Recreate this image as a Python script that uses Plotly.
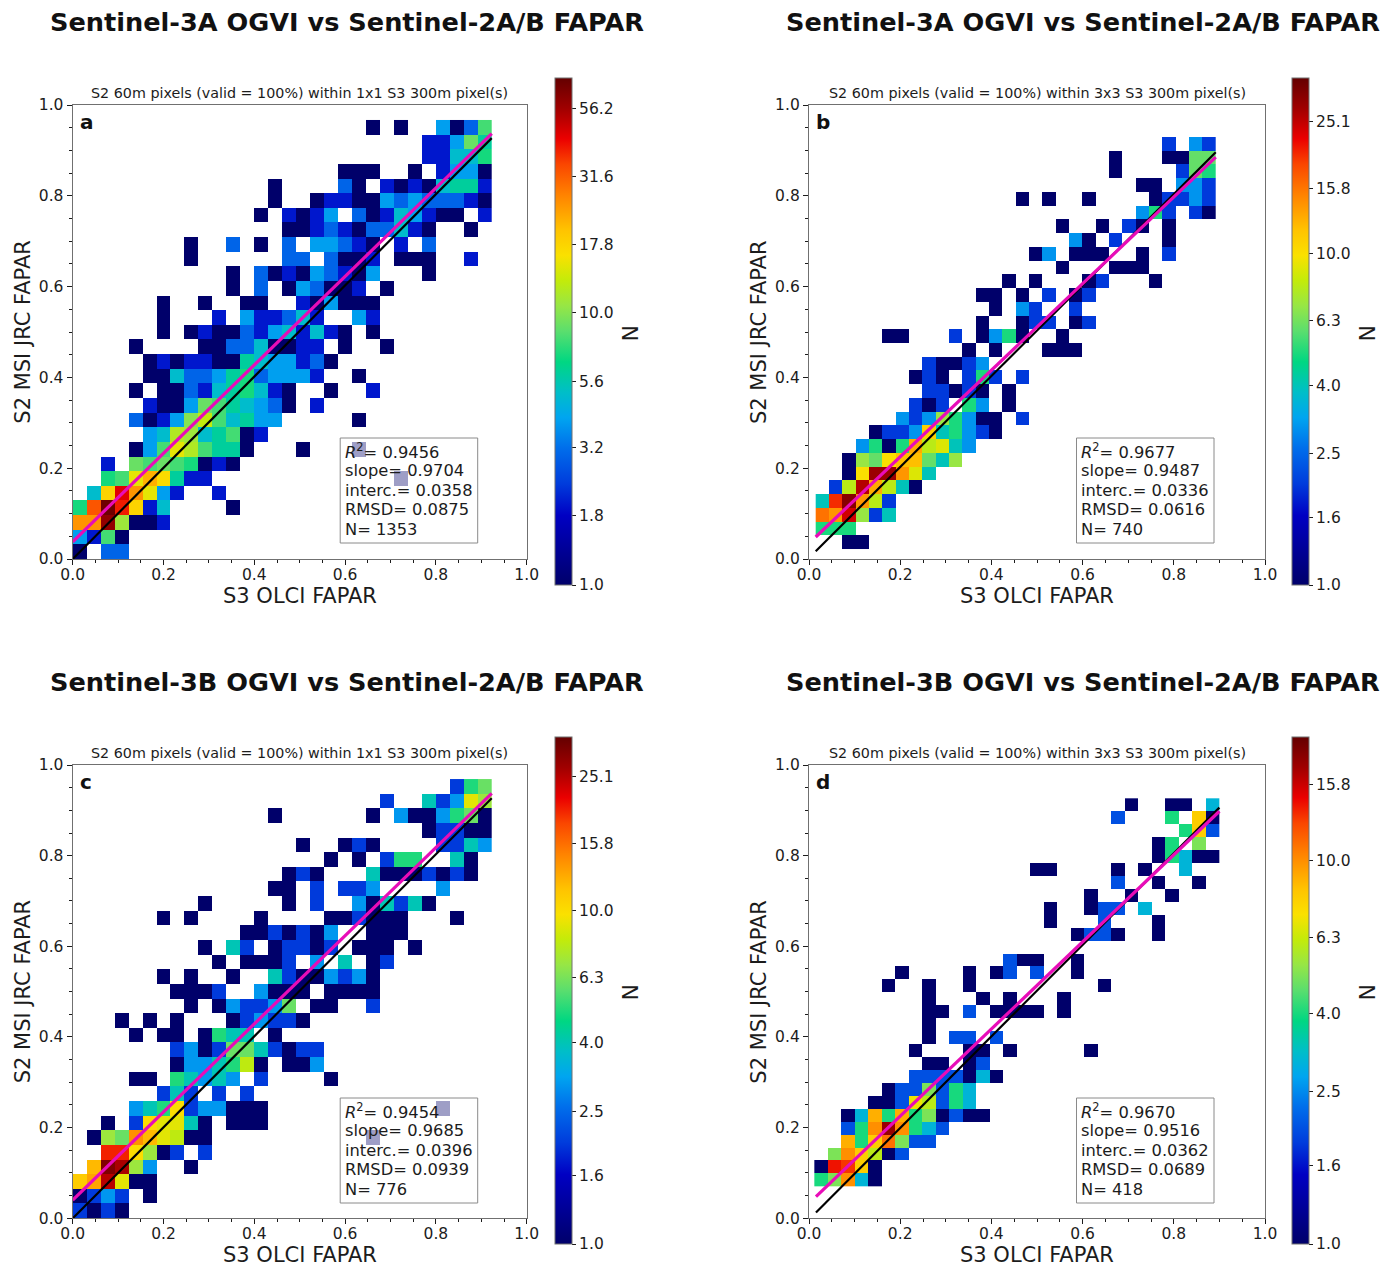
import numpy as np
import plotly.graph_objects as go

W, H = 1397, 1266

# ---------- data: counts per 2-D histogram bin, {row (from bottom): {column: N}} ----------
COUNTS_A = {
    29: {21:1,23:1,26:4,27:1,28:3,29:8},
    28: {25:2,26:2,27:4,28:9,29:6},
    27: {25:2,26:2,27:5,28:5,29:7},
    26: {19:1,20:1,21:1,24:1,26:2,27:4,28:4,29:1},
    25: {14:1,19:3,20:1,22:2,23:1,24:2,25:1,26:5,27:6,28:6,29:2},
    24: {14:1,17:1,18:2,19:2,20:1,21:1,22:4,23:3,24:4,25:3,26:3,27:3,28:2,29:1},
    23: {13:1,15:2,16:1,17:2,18:4,20:3,21:1,22:2,23:5,24:4,25:2,26:1,27:1,29:2},
    22: {15:1,16:1,17:2,18:3,19:2,20:1,21:3,22:3,23:5,24:2,25:1,28:1},
    21: {8:1,11:3,13:1,15:3,17:4,18:4,19:3,20:2,21:1,23:2,25:3},
    20: {8:1,15:3,16:3,18:3,19:1,20:1,21:2,23:1,24:1,25:1,28:2},
    19: {11:1,13:3,14:1,15:2,16:1,17:4,18:3,19:2,20:1,21:4,25:1},
    18: {11:1,13:3,15:1,16:4,17:3,18:1,19:1,20:2,22:1},
    17: {6:1,9:1,12:1,13:1,16:2,17:1,18:4,19:1,20:1,21:1},
    16: {6:1,10:2,12:4,13:2,14:2,15:3,16:5,17:2,20:4,21:2},
    15: {6:1,8:1,9:2,10:1,11:1,12:3,13:2,14:4,15:5,16:2,17:5,18:2,19:1,21:1},
    14: {4:1,9:1,10:1,11:3,12:3,13:5,14:1,15:1,16:2,17:2,19:1,22:1},
    13: {5:1,6:2,7:1,8:2,9:2,10:1,11:1,12:6,13:5,14:4,15:4,16:2,17:3,18:1},
    12: {5:1,6:1,7:5,8:3,9:3,10:4,11:6,12:7,13:3,14:4,15:4,16:4,17:2,20:1},
    11: {4:1,6:1,7:1,8:3,9:2,10:5,11:6,12:7,13:5,14:2,15:1,18:1,21:2},
    10: {5:2,6:1,7:1,8:4,9:9,10:8,11:6,12:5,13:4,14:3,15:1,17:2},
    9: {4:3,5:1,6:2,7:4,8:10,9:13,10:8,11:5,12:6,13:4,14:4,20:1},
    8: {5:4,6:5,7:12,8:11,9:5,10:6,11:8,12:1,13:2},
    7: {4:1,5:4,6:8,7:15,8:12,9:8,10:6,11:6,12:1,16:1,20:1},
    6: {2:2,4:9,5:8,6:9,7:8,8:7,9:1,10:2,11:1},
    5: {2:7,3:8,4:15,5:22,6:17,7:6,8:2,9:2,23:1},
    4: {1:5,2:18,3:45,4:25,5:15,6:4,7:2,10:2},
    3: {0:7,1:33,2:70,3:40,4:18,5:2,6:5,11:1},
    2: {0:25,1:25,2:60,3:11,4:1,5:1,6:2},
    1: {0:4,1:2,2:8,3:1},
    0: {0:1,2:3,3:3},
}
COUNTS_B = {
    29: {26:2,28:3,29:2},
    28: {22:1,26:1,27:1,28:6,29:6},
    27: {22:1,27:2,28:6,29:5},
    26: {24:1,25:1,27:3,28:3,29:2},
    25: {15:1,17:1,20:1,25:1,26:2,27:2,28:3,29:2},
    24: {24:3,25:5,26:2,28:2,29:1},
    23: {18:1,21:1,23:2,24:1,26:1},
    22: {19:3,20:1,22:2,26:1},
    21: {16:1,17:3,19:1,20:1,21:1,24:1,26:2},
    20: {18:1,22:1,23:1,24:1},
    19: {14:1,16:1,20:1,21:2,25:1},
    18: {12:1,13:1,15:1,17:2,19:1,20:2},
    17: {13:1,15:3,16:2,19:2},
    16: {12:1,15:1,16:2,17:2,19:1,20:2},
    15: {5:1,6:1,10:2,12:1,13:3,14:5,15:1,18:1},
    14: {11:1,13:1,17:1,18:1,19:1},
    13: {8:2,9:1,10:1,11:2,12:3},
    12: {7:1,8:2,9:1,11:2,12:5,13:2,15:2},
    11: {8:2,9:2,10:1,11:2,12:1,14:1},
    10: {7:2,8:1,9:2,11:5,12:3,14:1},
    9: {6:3,7:2,8:3,9:7,10:5,11:3,12:1,13:1,15:2},
    8: {4:1,5:2,6:2,7:3,8:11,9:4,10:5,11:3,12:2,13:1},
    7: {3:3,4:5,5:1,6:5,7:13,8:8,9:9,10:4,11:3},
    6: {2:1,3:7,4:6,5:10,6:12,7:12,8:6,9:4,10:7},
    5: {2:1,3:10,4:28,5:28,6:14,7:9,8:4},
    4: {1:2,2:8,3:26,4:13,5:8,6:4,7:1},
    3: {0:4,1:20,2:30,3:14,4:8,5:2},
    2: {0:16,1:14,2:24,3:7,4:2,5:4},
    1: {0:5,1:5,2:5},
    0: {2:1,3:1},
}
COUNTS_C = {
    29: {27:2,28:5,29:6},
    28: {22:2,25:4,26:2,27:3,28:9,29:7},
    27: {14:1,21:1,23:3,24:1,25:1,26:3,27:5,28:6,29:1},
    26: {25:1,26:2,27:2,28:1,29:1},
    25: {16:1,19:1,20:2,21:1,26:2,27:2,28:4,29:3},
    24: {18:1,20:1,22:2,23:5,24:5,27:4,28:1},
    23: {15:1,16:2,17:1,21:4,22:1,23:1,24:1,25:2,26:1,27:2,28:1},
    22: {14:1,15:1,17:2,19:2,20:2,21:3,26:3},
    21: {9:1,15:1,17:2,20:3,21:1,22:4,23:2,24:4,25:1},
    20: {6:1,8:1,13:1,18:1,19:1,20:2,21:1,22:1,23:1,27:1},
    19: {12:1,13:1,14:2,15:1,16:2,17:1,18:3,21:1,22:1,23:1},
    18: {9:1,11:4,12:2,14:1,15:2,16:2,17:1,18:2,20:1,21:1,22:1,24:1},
    17: {10:1,12:1,13:1,14:1,15:2,17:3,19:4,21:1,22:2},
    16: {6:1,8:1,11:1,14:4,15:2,16:1,17:1,18:3,19:2,20:3,21:1},
    15: {7:1,8:1,9:1,10:2,13:3,14:1,15:1,16:1,18:1,19:1,20:1,21:1},
    14: {8:1,10:1,11:3,12:2,13:2,14:3,15:6,17:1,18:1,21:2},
    13: {3:1,5:1,7:1,11:1,12:2,13:3,14:2,15:2,16:1},
    12: {4:1,6:1,7:1,9:1,10:5,11:4,12:4,14:1},
    11: {7:2,8:3,9:1,10:2,11:6,12:6,13:4,14:2,15:1,16:2,17:2},
    10: {7:1,8:3,9:3,10:4,11:5,12:8,13:1,15:1,16:1,17:3},
    9: {4:1,5:1,7:5,8:4,9:3,10:4,11:3,13:2,18:1},
    8: {6:2,7:4,8:2,10:2,12:2},
    7: {4:3,5:4,6:5,7:10,8:2,9:3,10:3,11:1,12:1,13:1,26:1},
    6: {2:1,4:2,5:10,6:9,7:9,8:4,9:1,11:1,12:1,13:1},
    5: {1:1,2:7,3:6,4:14,5:12,6:9,7:8,8:1,9:1,21:1},
    4: {2:20,3:20,4:10,5:7,6:1,7:2,9:2},
    3: {1:12,2:30,3:26,4:7,5:3,8:1},
    2: {0:11,1:13,2:25,3:9,4:1,5:1},
    1: {0:1,1:2,2:3,3:2,5:1},
    0: {0:2,1:1,2:2,3:1},
}
COUNTS_D = {
    29: {23:1,26:1,27:1,29:3},
    28: {22:2,26:4,28:8,29:1},
    27: {27:4,28:8,29:2},
    26: {25:1,26:4,28:5},
    25: {25:1,26:4,27:3,28:1,29:1},
    24: {16:1,17:1,22:1,24:1,27:3},
    23: {22:2,25:1,28:1},
    22: {20:1,23:1,26:1},
    21: {17:1,20:1,21:2,22:2,24:3},
    20: {17:1,21:2,25:1},
    19: {19:1,20:2,21:2,22:1,25:1},
    17: {14:2,15:1,16:1,19:1},
    16: {6:1,11:1,13:1,14:2,16:2,19:1},
    15: {5:1,8:1,11:1,21:1},
    14: {8:1,12:1,14:1,18:1},
    13: {8:1,9:1,11:2,13:1,14:1,15:1,16:1,18:1},
    12: {8:1},
    11: {8:1,10:2,11:2,13:2},
    10: {7:1,11:1,12:1,14:1,20:1},
    9: {8:1,9:1,11:1,12:2},
    8: {7:2,8:2,9:2,10:2,11:1,12:3,13:1},
    7: {5:1,6:2,7:2,8:5,9:2,10:4,11:3},
    6: {4:1,5:1,6:2,7:7,8:6,9:2,10:4,11:3},
    5: {2:1,3:3,4:9,5:4,6:9,7:4,8:5,9:1,10:2,11:1,12:1},
    4: {2:2,3:4,4:10,5:18,6:10,7:4,8:3,9:2},
    3: {2:9,3:4,4:8,5:11,6:5,7:2,8:2},
    2: {1:5,2:10,3:8,4:6,5:1,6:2},
    1: {0:1,1:14,2:13,3:8,4:1},
    0: {0:4,1:5,2:10,3:3,4:1},
}
N_BINS = 30
BIN_X_RANGE = {"a": (0.0, 0.923), "b": (0.0147, 0.892), "c": (0.0, 0.923), "d": (0.0117, 0.900)}
BIN_Y_RANGE = {"a": (0.0, 0.967), "b": (0.022, 0.9295), "c": (0.0, 0.969), "d": (0.070, 0.9265)}
IDENTITY_X = {"a": (0.0, 0.923), "b": (0.0147, 0.892), "c": (0.0, 0.923), "d": (0.0153, 0.900)}
IDENTITY_Y = {"a": (0.0, 0.927), "b": (0.017, 0.896), "c": (0.0, 0.9265), "d": (0.013, 0.906)}
FIT_Y = {"a": (0.038, 0.937), "b": (0.0485, 0.885), "c": (0.040, 0.9375), "d": (0.048, 0.898)}
VMAX = {"a": 73.0, "b": 34.0, "c": 33.0, "d": 21.0}
CB_TICKS = {
    "a": ["1.0", "1.8", "3.2", "5.6", "10.0", "17.8", "31.6", "56.2"],
    "b": ["1.0", "1.6", "2.5", "4.0", "6.3", "10.0", "15.8", "25.1"],
    "c": ["1.0", "1.6", "2.5", "4.0", "6.3", "10.0", "15.8", "25.1"],
    "d": ["1.0", "1.6", "2.5", "4.0", "6.3", "10.0", "15.8"],
}
TITLES = {
    "a": "Sentinel-3A OGVI vs Sentinel-2A/B FAPAR",
    "b": "Sentinel-3A OGVI vs Sentinel-2A/B FAPAR",
    "c": "Sentinel-3B OGVI vs Sentinel-2A/B FAPAR",
    "d": "Sentinel-3B OGVI vs Sentinel-2A/B FAPAR",
}
SUBTITLES = {
    "a": "S2 60m pixels (valid = 100%) within 1x1 S3 300m pixel(s)",
    "b": "S2 60m pixels (valid = 100%) within 3x3 S3 300m pixel(s)",
    "c": "S2 60m pixels (valid = 100%) within 1x1 S3 300m pixel(s)",
    "d": "S2 60m pixels (valid = 100%) within 3x3 S3 300m pixel(s)",
}
STATS = {
    "a": ["0.9456", "0.9704", "0.0358", "0.0875", "1353"],
    "b": ["0.9677", "0.9487", "0.0336", "0.0616", "740"],
    "c": ["0.9454", "0.9685", "0.0396", "0.0939", "776"],
    "d": ["0.9670", "0.9516", "0.0362", "0.0689", "418"],
}
STAT_LABELS = ["<i>R</i><sup>2</sup>= ", "slope= ", "interc.= ", "RMSD= ", "N= "]
XLABEL = "S3 OLCI FAPAR"
YLABEL = "S2 MSI JRC FAPAR"
CBLABEL = "N"

# ---------- style and layout (pixels in the 1397x1266 page) ----------
AX_BOX = {  # left, right, top, bottom
    "a": (72.7, 526.7, 105, 559), "b": (809, 1265, 105, 559),
    "c": (72.7, 526.7, 765, 1218.3), "d": (809, 1265, 765, 1218.3),
}
CB_BOX = {  # left, top, bottom
    "a": (555, 78, 585), "b": (1292, 78, 585), "c": (555, 737, 1244), "d": (1292, 737, 1244),
}
COLORSCALE = [
    [0.00, "rgb(0,0,106)"], [0.137, "rgb(0,0,195)"], [0.20, "rgb(0,60,220)"],
    [0.27, "rgb(0,110,235)"], [0.33, "rgb(0,165,240)"], [0.38, "rgb(0,190,200)"],
    [0.44, "rgb(0,215,130)"], [0.50, "rgb(90,222,110)"], [0.55, "rgb(150,230,70)"],
    [0.60, "rgb(195,235,10)"], [0.65, "rgb(250,225,0)"], [0.70, "rgb(255,195,0)"],
    [0.77, "rgb(255,130,0)"], [0.83, "rgb(250,70,0)"], [0.88, "rgb(235,0,0)"],
    [0.94, "rgb(160,0,0)"], [1.00, "rgb(100,0,0)"],
]
FONT = "DejaVu Sans"
INK = "#1c1c1c"
FRAME = "#707070"


def fx(p):
    return p / W


def fy(p):
    return 1 - p / H


fig = go.Figure()
annos = []
shapes = []


def note(x, y, text, size, xanchor="center", angle=0, bold=False, color=INK):
    annos.append(dict(
        xref="paper", yref="paper", x=fx(x), y=fy(y), text=f"<b>{text}</b>" if bold else text,
        showarrow=False, xanchor=xanchor, yanchor="middle", textangle=angle,
        font=dict(family=FONT, size=size, color=color), borderpad=0,
    ))


for i, key in enumerate("abcd", start=1):
    counts = {"a": COUNTS_A, "b": COUNTS_B, "c": COUNTS_C, "d": COUNTS_D}[key]
    grid = np.full((N_BINS, N_BINS), np.nan)
    for row, cells in counts.items():
        for col, n in cells.items():
            grid[row, col] = n
    x_lo, x_hi = BIN_X_RANGE[key]
    y_lo, y_hi = BIN_Y_RANGE[key]
    dx, dy = (x_hi - x_lo) / N_BINS, (y_hi - y_lo) / N_BINS
    xa, ya = ("x", "y") if i == 1 else (f"x{i}", f"y{i}")
    cb_l, cb_t, cb_b = CB_BOX[key]
    ticks = [float(t) for t in CB_TICKS[key]]
    fig.add_trace(go.Heatmap(
        z=np.log10(grid), x0=x_lo + dx / 2, dx=dx, y0=y_lo + dy / 2, dy=dy,
        xaxis=xa, yaxis=ya, zmin=0, zmax=float(np.log10(VMAX[key])), zsmooth=False,
        colorscale=COLORSCALE, hoverongaps=False, name=key,
        colorbar=dict(
            x=fx(cb_l), xanchor="left", y=fy(cb_b), yanchor="bottom", len=(cb_b - cb_t) / H,
            lenmode="fraction", thickness=17, thicknessmode="pixels", xpad=0, ypad=0,
            outlinewidth=1, outlinecolor=FRAME,
            tickmode="array", tickvals=[float(np.log10(t)) for t in ticks], ticktext=CB_TICKS[key],
            ticks="outside", ticklen=4, tickwidth=1, tickcolor=INK,
            tickfont=dict(family=FONT, size=15.5, color=INK),
        ),
    ))
    fig.add_trace(go.Scatter(
        x=IDENTITY_X[key], y=IDENTITY_Y[key], mode="lines", xaxis=xa, yaxis=ya,
        line=dict(color="black", width=2.2), showlegend=False, hoverinfo="skip",
    ))
    fig.add_trace(go.Scatter(
        x=IDENTITY_X[key], y=FIT_Y[key], mode="lines", xaxis=xa, yaxis=ya,
        line=dict(color="#e80cb8", width=3.2), showlegend=False, hoverinfo="skip",
    ))

    l, r, t, b = AX_BOX[key]
    axis_style = dict(
        range=[0, 1], showgrid=False, zeroline=False, mirror=True, showline=True,
        linecolor=FRAME, linewidth=1.3, ticks="outside", ticklen=5, tickwidth=1, tickcolor=INK,
        tickmode="array", tickvals=[0, 0.2, 0.4, 0.6, 0.8, 1.0],
        ticktext=["0.0", "0.2", "0.4", "0.6", "0.8", "1.0"],
        tickfont=dict(family=FONT, size=15.5, color=INK),
        minor=dict(dtick=0.05, ticks="outside", ticklen=2.5, tickwidth=1, tickcolor=INK, showgrid=False),
    )
    suffix = "" if i == 1 else str(i)
    fig.update_layout({
        f"xaxis{suffix}": dict(axis_style, domain=[fx(l), fx(r)], anchor=ya, ticklabelstandoff=-4),
        f"yaxis{suffix}": dict(axis_style, domain=[fy(b), fy(t)], anchor=xa),
    })

    note(l + 274, t - 83, TITLES[key], 25.6, bold=True, color="#111111")
    note((l + r) / 2, t - 12, SUBTITLES[key], 14.3)
    note((l + r) / 2, b + 36.5, XLABEL, 21)
    note(l - 50, (t + b) / 2, YLABEL, 21, angle=-90)
    note(cb_l + 75, (cb_t + cb_b) / 2 + 2, CBLABEL, 22, angle=-90)
    note(l + 6, t + 17, key, 20, xanchor="left", bold=True, color="#111111")

    box_l, box_r = l + 267.5, l + 405
    box_t, box_b = t + 333, t + 438
    shapes.append(dict(
        type="rect", xref="paper", yref="paper", x0=fx(box_l), x1=fx(box_r), y0=fy(box_b), y1=fy(box_t),
        line=dict(color="#8a8a8a", width=1), fillcolor="rgba(255,255,255,0.62)", layer="above",
    ))
    for k, (lab, val) in enumerate(zip(STAT_LABELS, STATS[key])):
        note(box_l + 3.5, box_t + 12.5 + 19.8 * k, lab + val, 16.3, xanchor="left")

fig.update_layout(
    width=W, height=H, margin=dict(l=0, r=0, t=0, b=0, autoexpand=False),
    paper_bgcolor="white", plot_bgcolor="white", showlegend=False,
    annotations=annos, shapes=shapes, font=dict(family=FONT, color=INK),
)
fig.write_html(
    "out.html",
    config={"displayModeBar": False},
    post_script="document.body.style.margin='0';document.body.style.overflow='hidden';",
)
